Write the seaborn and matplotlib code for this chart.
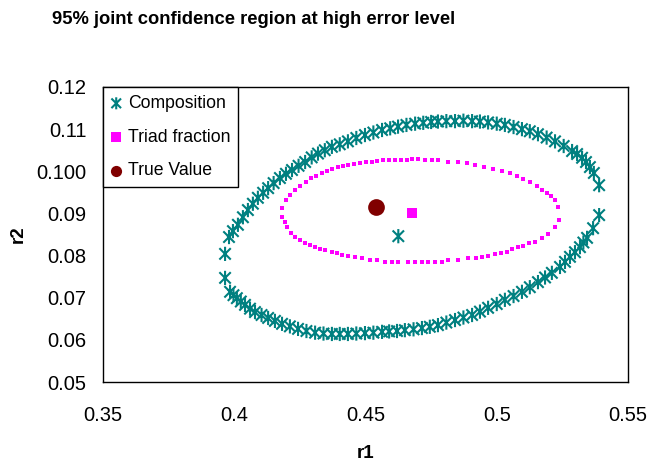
import numpy as np
import pandas as pd
import matplotlib
matplotlib.use("Agg")
import matplotlib.pyplot as plt
from matplotlib.path import Path
import seaborn as sns

# ---------------- data ----------------
comp_upper_r1 = [0.3965, 0.3980, 0.3995, 0.4014, 0.4033, 0.4052, 0.4071, 0.4090, 0.4110, 0.4129,
                 0.4150, 0.4174, 0.4197, 0.4220, 0.4245, 0.4270, 0.4295, 0.4319, 0.4345, 0.4372,
                 0.4402, 0.4433, 0.4465, 0.4498, 0.4530, 0.4563, 0.4594, 0.4624, 0.4656, 0.4689,
                 0.4720, 0.4750, 0.4776, 0.4808, 0.4841, 0.4873, 0.4906, 0.4936, 0.4967, 0.5000,
                 0.5031, 0.5064, 0.5096, 0.5126, 0.5157, 0.5190, 0.5222, 0.5255, 0.5287, 0.5306,
                 0.5325, 0.5340, 0.5355, 0.5370, 0.5390]
comp_upper_r2 = [0.0804, 0.0844, 0.0858, 0.0873, 0.0891, 0.0908, 0.0923, 0.0937, 0.0949, 0.0960,
                 0.0972, 0.0984, 0.0994, 0.1003, 0.1013, 0.1022, 0.1033, 0.1042, 0.1050, 0.1058,
                 0.1064, 0.1071, 0.1079, 0.1086, 0.1092, 0.1098, 0.1102, 0.1106, 0.1110, 0.1113,
                 0.1115, 0.1117, 0.1118, 0.1119, 0.1119, 0.1120, 0.1119, 0.1118, 0.1116, 0.1113,
                 0.1110, 0.1105, 0.1100, 0.1095, 0.1088, 0.1080, 0.1071, 0.1060, 0.1048, 0.1041,
                 0.1032, 0.1022, 0.1010, 0.0996, 0.0967]
comp_lower_r1 = [0.5390, 0.5367, 0.5344, 0.5330, 0.5317, 0.5298, 0.5279, 0.5260, 0.5241, 0.5210,
                 0.5184, 0.5157, 0.5126, 0.5096, 0.5064, 0.5031, 0.5000, 0.4967, 0.4936, 0.4906,
                 0.4873, 0.4841, 0.4808, 0.4776, 0.4745, 0.4715, 0.4683, 0.4650, 0.4620, 0.4590,
                 0.4563, 0.4530, 0.4498, 0.4465, 0.4433, 0.4402, 0.4372, 0.4340, 0.4308, 0.4275,
                 0.4243, 0.4212, 0.4182, 0.4155, 0.4129, 0.4104, 0.4079, 0.4060, 0.4041, 0.4025,
                 0.4010, 0.3997, 0.3984, 0.3965]
comp_lower_r2 = [0.0896, 0.0865, 0.0842, 0.0831, 0.0820, 0.0808, 0.0797, 0.0785, 0.0773, 0.0759,
                 0.0748, 0.0737, 0.0725, 0.0714, 0.0704, 0.0695, 0.0685, 0.0676, 0.0667, 0.0659,
                 0.0653, 0.0647, 0.0641, 0.0635, 0.0631, 0.0628, 0.0625, 0.0623, 0.0621, 0.0620,
                 0.0619, 0.0617, 0.0616, 0.0615, 0.0614, 0.0614, 0.0614, 0.0615, 0.0617, 0.0621,
                 0.0626, 0.0632, 0.0638, 0.0645, 0.0652, 0.0659, 0.0666, 0.0674, 0.0683, 0.0691,
                 0.0699, 0.0706, 0.0714, 0.0747]
comp_point = (0.4625, 0.0846)

triad_upper_r1 = [0.4181, 0.4196, 0.4212, 0.4232, 0.4251, 0.4272, 0.4293, 0.4312, 0.4333, 0.4355,
                  0.4374, 0.4394, 0.4416, 0.4435, 0.4457, 0.4479, 0.4501, 0.4524, 0.4545, 0.4568,
                  0.4590, 0.4613, 0.4634, 0.4657, 0.4678, 0.4701, 0.4727, 0.4752, 0.4778, 0.4816,
                  0.4854, 0.4886, 0.4917, 0.4953, 0.4987, 0.5019, 0.5051, 0.5076, 0.5101, 0.5127,
                  0.5152, 0.5171, 0.5191, 0.5207, 0.5222, 0.5235, 0.5237]
triad_upper_r2 = [0.0912, 0.0932, 0.0944, 0.0956, 0.0965, 0.0975, 0.0983, 0.0990, 0.0995, 0.1001,
                  0.1005, 0.1009, 0.1013, 0.1015, 0.1017, 0.1019, 0.1021, 0.1023, 0.1025, 0.1027,
                  0.1027, 0.1027, 0.1027, 0.1027, 0.1028, 0.1029, 0.1027, 0.1027, 0.1027, 0.1023,
                  0.1022, 0.1019, 0.1015, 0.1009, 0.1005, 0.1001, 0.0995, 0.0989, 0.0982, 0.0975,
                  0.0965, 0.0956, 0.0948, 0.0941, 0.0932, 0.0916, 0.0884]
triad_lower_r1 = [0.5222, 0.5197, 0.5171, 0.5146, 0.5124, 0.5101, 0.5080, 0.5059, 0.5038, 0.5016,
                  0.4994, 0.4968, 0.4945, 0.4921, 0.4892, 0.4854, 0.4816, 0.4790, 0.4765, 0.4739,
                  0.4714, 0.4689, 0.4663, 0.4625, 0.4600, 0.4574, 0.4543, 0.4517, 0.4486, 0.4460,
                  0.4435, 0.4409, 0.4390, 0.4371, 0.4346, 0.4327, 0.4308, 0.4289, 0.4270, 0.4251,
                  0.4232, 0.4216, 0.4200, 0.4193, 0.4181]
triad_lower_r2 = [0.0867, 0.0851, 0.0841, 0.0833, 0.0829, 0.0823, 0.0820, 0.0815, 0.0809, 0.0805,
                  0.0803, 0.0800, 0.0797, 0.0795, 0.0794, 0.0790, 0.0790, 0.0785, 0.0785, 0.0785,
                  0.0785, 0.0785, 0.0785, 0.0785, 0.0785, 0.0785, 0.0790, 0.0790, 0.0794, 0.0797,
                  0.0800, 0.0801, 0.0805, 0.0809, 0.0813, 0.0816, 0.0821, 0.0825, 0.0831, 0.0837,
                  0.0843, 0.0853, 0.0867, 0.0880, 0.0892]
triad_point = (0.4678, 0.0900)
true_value = (0.4540, 0.0916)

x_ticks = [0.35, 0.40, 0.45, 0.50, 0.55]
x_tick_labels = ["0.35", "0.4", "0.45", "0.5", "0.55"]
y_ticks = [0.05, 0.06, 0.07, 0.08, 0.09, 0.10, 0.11, 0.12]
y_tick_labels = ["0.05", "0.06", "0.07", "0.08", "0.09", "0.100", "0.11", "0.12"]

# ---------------- styling ----------------
sns.set_style("white")
plt.rcParams["font.family"] = ["Liberation Sans", "DejaVu Sans"]
plt.rcParams["text.color"] = "black"
plt.rcParams["axes.labelcolor"] = "black"

TEAL = "#008080"
MAGENTA = "#FF00FF"
DARKRED = "#800000"

ast_path = Path(
    [(-0.8, -0.8), (0.8, 0.8), (-0.8, 0.8), (0.8, -0.8), (0.0, -1.0), (0.0, 1.0)],
    [Path.MOVETO, Path.LINETO, Path.MOVETO, Path.LINETO, Path.MOVETO, Path.LINETO],
)
AST_S = 105
AST_LW = 1.5

comp_df = pd.DataFrame({"r1": comp_upper_r1 + comp_lower_r1,
                        "r2": comp_upper_r2 + comp_lower_r2})
triad_df = pd.DataFrame({"r1": triad_upper_r1 + triad_lower_r1,
                         "r2": triad_upper_r2 + triad_lower_r2})

fig = plt.figure(figsize=(6.54, 4.67), dpi=100)
ax = fig.add_axes([103 / 654, 1 - 382 / 467, 525 / 654, 295 / 467])

sns.scatterplot(data=comp_df, x="r1", y="r2", marker=ast_path, s=AST_S, color=TEAL,
                edgecolor=TEAL, facecolor="none", linewidth=AST_LW, ax=ax, zorder=3)
sns.scatterplot(data=triad_df, x="r1", y="r2", marker="s", s=12, color=MAGENTA,
                linewidth=0, ax=ax, zorder=3)

sns.scatterplot(x=[comp_point[0]], y=[comp_point[1]], marker=ast_path, s=AST_S,
                color=TEAL, edgecolor=TEAL, facecolor="none", linewidth=AST_LW,
                ax=ax, zorder=3)
h_comp = ax.collections[-1]
sns.scatterplot(x=[triad_point[0]], y=[triad_point[1]], marker="s", s=52, color=MAGENTA,
                linewidth=0, ax=ax, zorder=3)
h_triad = ax.collections[-1]
sns.scatterplot(x=[true_value[0]], y=[true_value[1]], marker="o", s=145, color=DARKRED,
                linewidth=0, ax=ax, zorder=4)
h_true = ax.collections[-1]

ax.set_xlim(0.35, 0.55)
ax.set_ylim(0.05, 0.12)
ax.set_xticks(x_ticks)
ax.set_xticklabels(x_tick_labels)
ax.set_yticks(y_ticks)
ax.set_yticklabels(y_tick_labels)
ax.tick_params(axis="both", length=0, labelsize=14.5, colors="black")
ax.tick_params(axis="x", pad=17)
ax.tick_params(axis="y", pad=12)
for sp in ax.spines.values():
    sp.set_visible(True)
    sp.set_color("black")
    sp.set_linewidth(1.0)
ax.grid(False)

ax.set_xlabel("r1", fontsize=13.5, fontweight="bold", labelpad=15, color="black")
ax.set_ylabel("r2", fontsize=13.5, fontweight="bold", labelpad=7, color="black")

leg = ax.legend([h_comp, h_triad, h_true], ["Composition", "Triad fraction", "True Value"],
                loc="upper left", bbox_to_anchor=(0, 1), borderaxespad=0.0,
                frameon=True, fancybox=False, edgecolor="black", framealpha=1,
                fontsize=12.7, handlelength=0.6, handletextpad=0.35, labelspacing=0.95,
                borderpad=0.45, scatterpoints=1)
leg.get_frame().set_linewidth(1.0)
for t in leg.get_texts():
    t.set_color("black")
h = leg.legend_handles
h[0].set_sizes([75])
h[1].set_sizes([55])
h[2].set_sizes([65])

fig.text(52 / 654, 1 - 20 / 467, "95% joint confidence region at high error level",
         ha="left", va="center", fontsize=13.2, fontweight="bold", color="black")

fig.savefig("out.png", dpi=100, facecolor="white")
